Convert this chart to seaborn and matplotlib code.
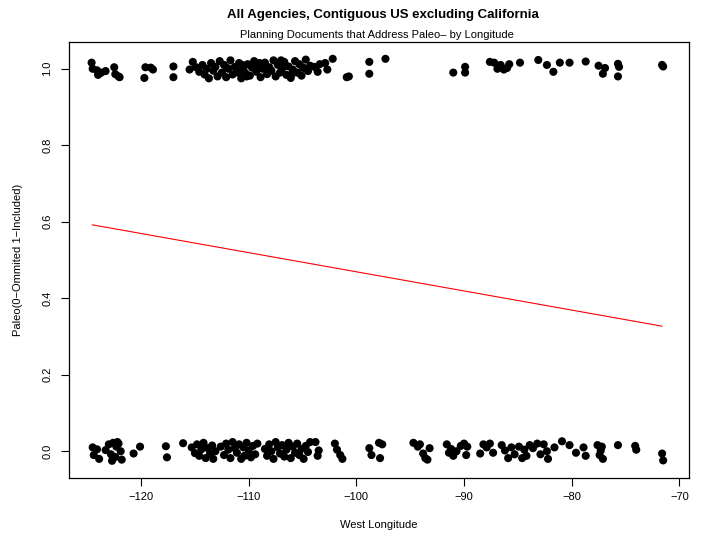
import matplotlib
matplotlib.use("Agg")
import matplotlib.pyplot as plt
import seaborn as sns
import pandas as pd

# ---------------- data ----------------
top_lon = [-124.6, -124.5, -124.1, -123.7, -123.3, -124.0, -122.5, -122.4, -122.1, -122.0,
           -119.7, -119.6, -119.1, -118.9, -117.0, -117.0,
           -115.5, -115.2, -114.9, -114.6,
           -114.3, -114.1, -113.9, -113.7, -113.5, -113.3, -113.1, -112.9, -112.7, -112.5,
           -112.3, -112.1, -111.9, -111.7, -111.5, -111.3, -111.1, -110.9, -110.7, -110.5,
           -110.3, -110.1, -109.9, -109.7, -109.5, -109.3, -109.1, -108.9, -108.7, -108.5,
           -108.3, -108.1, -107.9, -107.7, -107.5, -107.3, -107.1, -106.9, -106.7, -106.5,
           -106.3, -106.1, -105.9, -105.7, -105.5, -105.3, -105.1, -104.9, -104.7, -104.5,
           -104.3, -111.0, -110.6, -110.2, -109.0, -108.0, -107.0, -106.0, -105.0, -112.0,
           -103.9, -103.6, -103.4, -102.9, -102.7, -102.2, -100.9, -100.7,
           -98.8, -98.8, -97.3, -91.0, -89.9, -89.9,
           -87.6, -87.2, -86.9, -86.6, -86.3, -86.0, -85.8,
           -84.8, -83.1, -82.3, -81.7, -81.1, -80.2, -78.7, -77.5, -77.1, -76.9,
           -75.7, -75.7, -75.6, -71.6, -71.5]
top_val = [1.016, 1.000, 0.996, 0.990, 0.994, 0.984, 1.004, 0.986, 0.980, 0.978,
           0.976, 1.004, 1.003, 0.998, 1.006, 0.978,
           0.998, 1.018, 1.004, 0.992,
           1.010, 0.985, 1.000, 0.975, 1.015, 0.995, 1.005, 0.980, 1.020, 0.990,
           1.010, 0.978, 1.000, 1.022, 0.985, 1.005, 0.995, 1.015, 0.975, 1.000,
           0.988, 1.012, 0.982, 1.003, 1.020, 0.992, 1.008, 0.978, 1.000, 1.016,
           0.986, 1.004, 0.995, 1.022, 0.980, 1.010, 0.990, 1.000, 1.018, 0.984,
           1.006, 0.976, 0.998, 1.020, 0.990, 1.012, 0.982, 1.002, 1.024, 0.994,
           1.008, 0.990, 1.010, 0.980, 1.015, 0.996, 1.022, 0.986, 1.004, 1.002,
           1.005, 0.992, 1.012, 1.015, 0.998, 1.026, 0.978, 0.980,
           1.018, 0.987, 1.026, 0.990, 1.005, 0.990,
           1.018, 1.016, 1.000, 1.010, 0.998, 1.002, 1.012,
           1.016, 1.023, 1.010, 0.992, 1.016, 1.016, 1.019, 1.008, 0.987, 1.002,
           1.013, 0.980, 1.005, 1.010, 1.006]

bot_lon = [-124.5, -124.4, -124.1, -123.9, -123.3, -123.0, -122.8, -122.6, -122.4, -122.3,
           -122.1, -121.9, -121.8, -122.7, -122.2,
           -120.7, -120.1, -117.7, -117.6,
           -116.1, -115.3, -115.0, -114.8, -114.6, -114.4, -114.2, -114.0, -113.8, -113.6,
           -113.4, -113.3, -113.1,
           -112.6, -112.3, -112.1, -111.9, -111.7, -111.5, -111.3, -111.1, -110.9, -110.7,
           -110.5, -110.4, -110.2, -110.0, -109.8, -109.6, -109.4, -109.2,
           -108.5, -108.3, -108.1, -107.9, -107.7, -107.5, -107.3, -107.1, -106.9, -106.7,
           -106.5, -106.3, -106.1, -105.9, -105.7, -105.5, -105.3, -105.1, -104.9, -104.7,
           -104.5, -104.3,
           -103.8, -103.6, -103.5, -102.0, -101.8, -101.5, -101.3,
           -98.8, -98.6, -97.9, -97.8, -97.6,
           -94.7, -94.3, -94.1, -93.8, -93.6, -93.4, -93.2,
           -91.6, -91.4, -91.2, -91.0, -90.7, -90.3, -90.0, -89.8, -89.7,
           -88.5, -88.2, -87.9, -87.6, -87.3, -86.5, -86.2, -85.9, -85.6, -85.3,
           -84.9, -84.6, -84.4, -84.2, -83.9, -83.6, -83.2, -82.9, -82.6, -82.3,
           -82.2, -81.6, -80.9, -80.2, -79.6, -78.9, -78.7, -77.6, -77.4, -77.3,
           -77.1, -77.2, -75.7, -74.1, -74.0, -71.6, -71.5]
bot_val = [0.010, -0.010, 0.005, -0.020, 0.003, 0.018, -0.008, 0.022, -0.015, 0.012,
           0.020, 0.000, -0.022, -0.025, 0.024,
           -0.006, 0.012, 0.013, -0.016,
           0.021, 0.010, -0.005, 0.018, -0.012, 0.005, 0.022, -0.018, 0.008, -0.006,
           0.015, -0.020, 0.000,
           0.012, -0.010, 0.020, 0.004, -0.018, 0.024, 0.008, -0.004, 0.018, -0.020,
           0.010, -0.012, 0.022, 0.002, -0.016, 0.014, -0.008, 0.020,
           0.006, -0.012, 0.018, 0.000, -0.020, 0.024, 0.010, -0.006, 0.016, -0.014,
           0.004, 0.022, -0.018, 0.012, -0.004, 0.020, -0.010, 0.006, -0.020, 0.014,
           -0.002, 0.024,
           0.024, -0.012, 0.002, 0.020, 0.004, -0.010, -0.020,
           0.008, -0.010, 0.022, -0.018, 0.018,
           0.022, 0.012, 0.018, -0.006, -0.018, -0.022, 0.008,
           0.018, -0.004, 0.006, -0.012, 0.000, 0.014, 0.020, -0.010, 0.012,
           -0.006, 0.018, 0.010, 0.020, -0.004, 0.016, 0.002, -0.018, 0.010, -0.008,
           0.012, -0.018, 0.004, -0.012, 0.016, 0.008, 0.020, -0.008, 0.018, 0.000,
           -0.020, 0.010, 0.026, 0.016, -0.004, 0.010, -0.012, 0.016, -0.010, 0.002,
           -0.020, 0.012, 0.016, 0.014, 0.004, -0.006, -0.024]

line_lon = [-124.55, -71.6]
line_val = [0.592, 0.327]

x_ticks = [-120, -110, -100, -90, -80, -70]
y_ticks = [0.0, 0.2, 0.4, 0.6, 0.8, 1.0]

title = "All Agencies, Contiguous US excluding California"
subtitle = "Planning Documents that Address Paleo\u2013 by Longitude"
xlabel = "West Longitude"
ylabel = "Paleo(0\u2212Ommited 1\u2212Included)"

# ---------------- plotting ----------------
sns.set_theme(style="white")
plt.rcParams['font.family'] = ['Liberation Sans', 'DejaVu Sans']
plt.rcParams.update({"text.color": "black", "axes.labelcolor": "black",
                     "xtick.color": "black", "ytick.color": "black"})

pts = pd.DataFrame({"lon": top_lon + bot_lon, "val": top_val + bot_val})
line = pd.DataFrame({"lon": line_lon, "val": line_val})

fig = plt.figure(figsize=(7.06, 5.35), dpi=100)
ax = fig.add_axes([69/706, 1 - 478/535, (689 - 69)/706, (478 - 42)/535])

sns.scatterplot(data=pts, x="lon", y="val", ax=ax, color="black",
                s=34, linewidth=0, edgecolor="none", legend=False)
sns.lineplot(data=line, x="lon", y="val", ax=ax, color="red", linewidth=0.8,
             legend=False)

ax.set_xlim(-126.7, -69.1)
ax.set_ylim(-0.07, 1.07)
ax.set_xticks(x_ticks)
ax.set_yticks(y_ticks)
ax.set_xticklabels([f"\u2212{abs(v)}" for v in x_ticks], fontsize=8)
ax.set_yticklabels([f"{v:.1f}" for v in y_ticks], fontsize=8, rotation=90,
                   va="center")
ax.tick_params(axis="both", direction="out", length=6, width=0.8, color="black",
               labelcolor="black", bottom=True, left=True)
ax.tick_params(axis="x", pad=4)
ax.tick_params(axis="y", pad=6)
for sp in ax.spines.values():
    sp.set_visible(True)
    sp.set_color("black")
    sp.set_linewidth(0.9)

ax.set_xlabel(xlabel, fontsize=8, labelpad=13, color="black")
ax.set_ylabel(ylabel, fontsize=8, labelpad=14, color="black")

fig.text(383/706, 1 - 15/535, title, ha="center", va="center",
         fontsize=9.5, fontweight="bold", color="black")
fig.text(377/706, 1 - 35/535, subtitle, ha="center", va="center", fontsize=8,
         color="black")

fig.savefig("out.png", dpi=100, facecolor="white")
